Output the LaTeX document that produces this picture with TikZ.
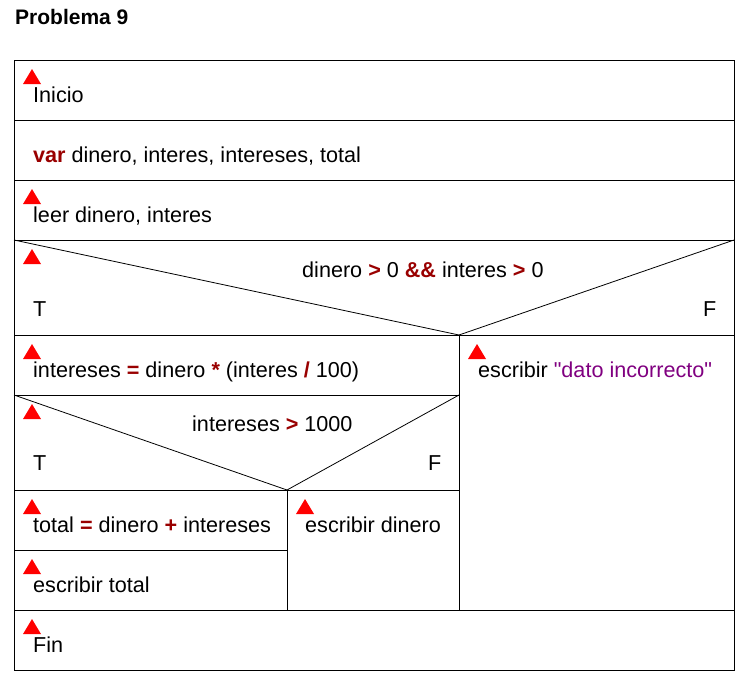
\documentclass[tikz,border=0pt]{standalone}
\usepackage{fontspec}
\setmainfont{Liberation Sans}
\newfontfamily\cadenafont{Liberation Sans}
\usetikzlibrary{positioning, calc}

\definecolor{kwred}{RGB}{153,0,0}
\definecolor{strpurple}{RGB}{128,0,128}
\newcommand{\kw}[1]{\textcolor{kwred}{\textbf{#1}}}
\newcommand{\cadena}[1]{\textcolor{strpurple}{{\cadenafont"#1"}}}

\tikzset{
    celda/.style={draw, line width=1pt, anchor=north west, inner sep=0pt, outer sep=0pt},
    texto/.style={anchor=base west, inner sep=0pt, font=\fontsize{21.6}{24}\selectfont},
    marca/.pic={\fill[red] (-9,15) -- (9,15) -- (0,0) -- cycle;},
}

\begin{document}
\begin{tikzpicture}[x=1pt, y=-1pt]
    \useasboundingbox (0,0) rectangle (754,680);

    %% Title
    \node[texto, font=\fontsize{21}{24}\selectfont\bfseries] (titulo) at (15,24) {Problema 9};

    %% Cells
    \node[celda, minimum width=720, minimum height=60] (inicio) at (14,60) {};
    \node[celda, minimum width=720, minimum height=60] (var) at (inicio.south west) {};
    \node[celda, minimum width=720, minimum height=60] (leer) at (var.south west) {};
    \node[celda, minimum width=720, minimum height=95] (si1) at (leer.south west) {};
    \node[celda, minimum width=445, minimum height=60] (calc) at (si1.south west) {};
    \node[celda, minimum width=275, minimum height=275] (escerror) at (calc.north east) {};
    \node[celda, minimum width=445, minimum height=95] (si2) at (calc.south west) {};
    \node[celda, minimum width=273, minimum height=60] (total) at (si2.south west) {};
    \node[celda, minimum width=273, minimum height=60] (esctotal) at (total.south west) {};
    \node[celda, minimum width=172, minimum height=120] (escdinero) at (total.north east) {};
    \node[celda, minimum width=720, minimum height=60] (fin) at (esctotal.south west) {};

    % Diagonals
    \coordinate (v1) at (calc.north east);
    \coordinate (v2) at (total.north east);
    \draw[line width=0.8pt] (si1.north west) -- (v1) -- (si1.north east);
    \draw[line width=0.8pt] (si2.north west) -- (v2) -- (si2.north east);

    % Markers
    \foreach \c in {inicio, leer, si1, calc, si2, total, esctotal, fin, escdinero, escerror}
        \path (\c.north west) ++(18,9) pic {marca};

    %% Texts
    \node[texto] (t1) at (33,102) {Inicio};
    \node[texto] (t2) at (33,162) {\kw{var} dinero, interes, intereses, total};
    \node[texto] (t3) at (33,222) {leer dinero, interes};
    \node[texto] (c1) at (302,277) {dinero \kw{>} 0 \kw{\&\&} interes \kw{>} 0};
    \node[texto] (t1T) at (33,316) {T};
    \node[texto] (t1F) at (703,316) {F};
    \node[texto] (t4) at (33,377) {intereses \kw{=} dinero \kw{*} (interes \kw{/} 100)};
    \node[texto] (t5) at (478,377) {escribir \cadena{dato incorrecto}};
    \node[texto] (c2) at (192,431) {intereses \kw{>} 1000};
    \node[texto] (t2T) at (33,470) {T};
    \node[texto] (t2F) at (428,470) {F};
    \node[texto] (t6) at (33,532) {total \kw{=} dinero \kw{+} intereses};
    \node[texto] (t7) at (305,532) {escribir dinero};
    \node[texto] (t8) at (33,592) {escribir total};
    \node[texto] (t9) at (33,652) {Fin};
\end{tikzpicture}
\end{document}
